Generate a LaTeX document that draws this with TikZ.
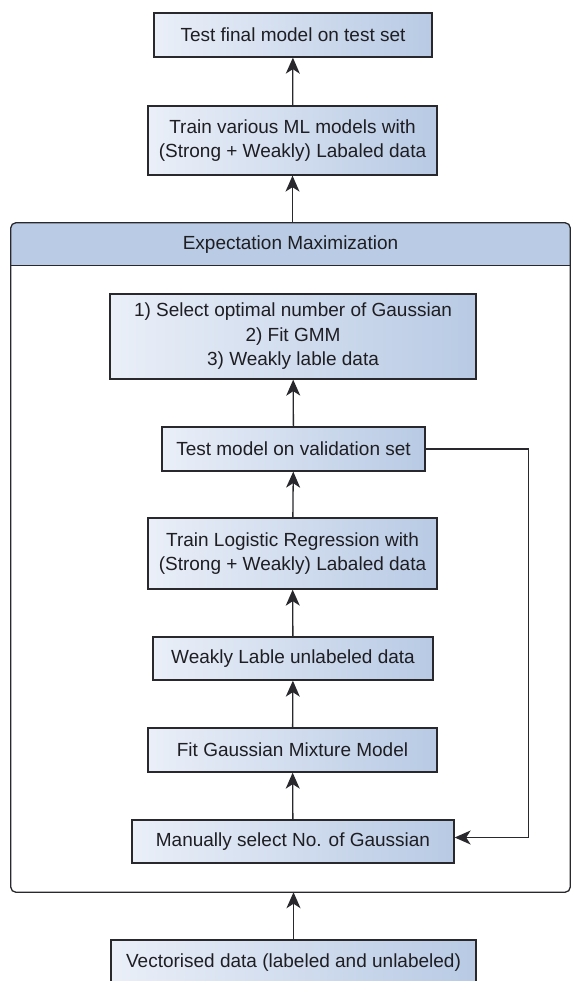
\documentclass[tikz,border=0pt]{standalone}
\usepackage{fontspec}
\setmainfont{Liberation Sans}
\usetikzlibrary{arrows.meta}
\definecolor{boxleft}{RGB}{234,239,248}
\definecolor{boxright}{RGB}{184,202,228}
\definecolor{headblue}{RGB}{186,204,229}
\definecolor{edge}{RGB}{40,40,45}
\definecolor{txt}{RGB}{30,30,35}
\tikzset{
  stepbox/.style={draw=edge, line width=1.3pt, left color=boxleft, right color=boxright,
    text=txt, align=center, inner sep=3pt,
    font=\fontsize{19}{23.5}\selectfont},
  flow/.style={->, line width=1.3pt, draw=edge}
}
\begin{document}
\begin{tikzpicture}[x=1pt, y=-1pt, >={Stealth[length=16pt,width=14pt,inset=4.5pt]}]
\useasboundingbox (0,0) rectangle (572,981);
% EM group
\node[minimum width=559pt, minimum height=669pt] (em) at (290.5,557.5) {};
\begin{scope}
\clip[rounded corners=5pt] (em.north west) rectangle (em.south east);
\fill[headblue] (em.north west) rectangle ([yshift=-43pt]em.north east);
\end{scope}
\draw[edge, line width=1.3pt, rounded corners=5pt] (em.north west) rectangle (em.south east);
\draw[edge, line width=1.3pt] ([yshift=-43pt]em.north west) -- ([yshift=-43pt]em.north east);
\node[text=txt, font=\fontsize{19}{23.5}\selectfont] (emtitle) at (290.5,244.5) {Expectation Maximization};
% boxes
\node[stepbox, minimum width=278pt, minimum height=44pt] (final) at (293,35) {Test final model on test set};
\node[stepbox, minimum width=289pt, minimum height=69pt] (train) at (292.5,140.5) {Train various ML models with\\(Strong + Weakly) Labaled data};
\node[stepbox, minimum width=366pt, minimum height=85pt, font=\fontsize{19}{24.5}\selectfont] (sel) at (293,336.5) {1) Select optimal number of Gaussian\\2) Fit GMM\\3) Weakly lable data};
\node[stepbox, minimum width=263pt, minimum height=44pt] (val) at (293.5,449) {Test model on validation set};
\node[stepbox, minimum width=289pt, minimum height=71pt] (logreg) at (292.5,553.5) {Train Logistic Regression with\\(Strong + Weakly) Labaled data};
\node[stepbox, minimum width=280pt, minimum height=43pt] (weak) at (293,658.5) {Weakly Lable unlabeled data};
\node[stepbox, minimum width=289pt, minimum height=44pt] (gmm) at (292.5,750) {Fit Gaussian Mixture Model};
\node[stepbox, minimum width=322pt, minimum height=43pt] (man) at (293,841.5) {Manually select No. of Gaussian};
\node[stepbox, minimum width=365pt, minimum height=46pt] (vec) at (293.5,963) {Vectorised data (labeled and unlabeled)};
% arrows
\draw[flow] (train) -- (final);
\draw[flow] (em.north -| train) -- (train);
\draw[flow] (val) -- (sel);
\draw[flow] (logreg) -- (val);
\draw[flow] (weak) -- (logreg);
\draw[flow] (gmm) -- (weak);
\draw[flow] (man) -- (gmm);
\draw[flow] (vec) -- (vec |- em.south);
\draw[flow] (val.east) -- ++(103pt,0) |- ([yshift=4pt]man.east);
\end{tikzpicture}
\end{document}
